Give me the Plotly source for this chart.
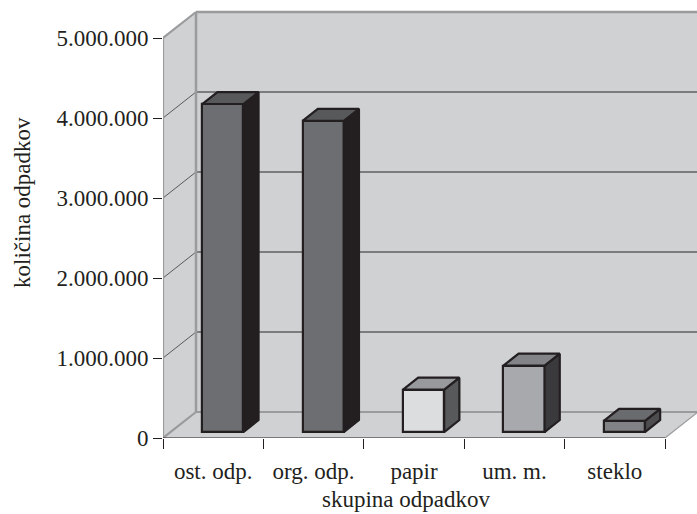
import plotly.graph_objects as go

# --- data -------------------------------------------------------------
categories = ["ost. odp.", "org. odp.", "papir", "um. m.", "steklo"]
values = [4100000, 3890000, 530000, 830000, 140000]

front_colors = ["#6d6e71", "#6d6e71", "#dcdddf", "#a7a9ac", "#808285"]
top_colors = ["#58595b", "#58595b", "#97999c", "#828487", "#6a6b6e"]
side_colors = ["#231f20", "#231f20", "#58595b", "#3a3a3c", "#4d4d4f"]

y_ticks = [0, 1000000, 2000000, 3000000, 4000000, 5000000]
y_tick_labels = ["0", "1.000.000", "2.000.000", "3.000.000", "4.000.000", "5.000.000"]

# --- 3D look: oblique depth offsets in axis units -----------------------
DEPTH_X = 0.3287          # category units for the full depth of the floor
DEPTH_Y = 325000          # value units for the full depth of the floor
BAR_FRONT = 0.23          # depth fraction where the bar front face sits
BAR_DEPTH = 0.46          # depth fraction occupied by a bar
BAR_WIDTH = 0.41
BAR_SHIFT = 0.02
N = len(categories)
Y_MAX = y_ticks[-1]

WALL = "#d0d1d3"
EDGE = "#9a9b9d"
INK = "#231f20"
FONT = "Liberation Serif, Times New Roman, serif"

x0, x1 = -0.5, N - 0.5
bx0, bx1 = x0 + DEPTH_X, x1 + DEPTH_X


def path(points):
    return "M " + " L ".join(f"{px},{py}" for px, py in points) + " Z"


shapes = []
# back wall, left wall, floor
for pts in [
    [(bx0, DEPTH_Y), (bx1, DEPTH_Y), (bx1, Y_MAX + DEPTH_Y), (bx0, Y_MAX + DEPTH_Y)],
    [(x0, 0), (bx0, DEPTH_Y), (bx0, Y_MAX + DEPTH_Y), (x0, Y_MAX)],
    [(x0, 0), (x1, 0), (bx1, DEPTH_Y), (bx0, DEPTH_Y)],
]:
    shapes.append(dict(type="path", path=path(pts), xref="x", yref="y",
                       fillcolor=WALL, line=dict(width=0), layer="below"))

# gridlines: back wall horizontals and left wall diagonals
for t in y_ticks[1:-1]:
    shapes.append(dict(type="line", xref="x", yref="y", x0=bx0, x1=bx1,
                       y0=t + DEPTH_Y, y1=t + DEPTH_Y,
                       line=dict(color="#5e5f61", width=1.5), layer="below"))
    shapes.append(dict(type="line", xref="x", yref="y", x0=x0, x1=bx0,
                       y0=t, y1=t + DEPTH_Y,
                       line=dict(color="#3a3a3c", width=0.8), layer="below"))

# wall edges
edges = [
    (x0, 0, x0, Y_MAX, 2.2),
    (bx0, DEPTH_Y, bx0, Y_MAX + DEPTH_Y, 2.5),
    (x0, Y_MAX, bx0, Y_MAX + DEPTH_Y, 2.2),
    (bx0, Y_MAX + DEPTH_Y, bx1, Y_MAX + DEPTH_Y, 2.5),
    (bx0, DEPTH_Y, bx1, DEPTH_Y, 2.2),
    (x0, 0, bx0, DEPTH_Y, 2.2),
    (x1, 0, bx1, DEPTH_Y, 1.2),
]
for ex0, ey0, ex1, ey1, w in edges:
    shapes.append(dict(type="line", xref="x", yref="y", x0=ex0, y0=ey0, x1=ex1, y1=ey1,
                       line=dict(color=EDGE, width=w), layer="below"))

# front floor edge (category axis line)
shapes.append(dict(type="line", xref="x", yref="y", x0=x0, y0=0, x1=x1, y1=0,
                   line=dict(color=INK, width=1.2), layer="above"))

fig = go.Figure()

# bar front faces
fx = [i + BAR_SHIFT + BAR_FRONT * DEPTH_X for i in range(N)]
base = BAR_FRONT * DEPTH_Y
fig.add_trace(go.Bar(
    x=fx, y=values, base=[base] * N, width=BAR_WIDTH,
    marker=dict(color=front_colors, line=dict(color=INK, width=2.2)),
    hoverinfo="skip", showlegend=False,
))

# bar tops and right sides
ddx, ddy = BAR_DEPTH * DEPTH_X, BAR_DEPTH * DEPTH_Y
for i, v in enumerate(values):
    xl, xr = fx[i] - BAR_WIDTH / 2, fx[i] + BAR_WIDTH / 2
    yb, yt = base, base + v
    side = [(xr, yb), (xr + ddx, yb + ddy), (xr + ddx, yt + ddy), (xr, yt), (xr, yb)]
    top = [(xl, yt), (xr, yt), (xr + ddx, yt + ddy), (xl + ddx, yt + ddy), (xl, yt)]
    for pts, col in [(side, side_colors[i]), (top, top_colors[i])]:
        fig.add_trace(go.Scatter(
            x=[p[0] for p in pts], y=[p[1] for p in pts],
            mode="lines", fill="toself", fillcolor=col,
            line=dict(color=INK, width=2.2),
            hoverinfo="skip", showlegend=False,
        ))

W, H = 697, 514
L, B = 163, 76
px_per_cat = 100.4
px_per_val = 80 / 1000000
plot_w, plot_h = W - L, H - B

fig.update_layout(
    width=W, height=H,
    margin=dict(l=L, r=0, t=0, b=B, pad=0),
    paper_bgcolor="white", plot_bgcolor="white",
    font=dict(family=FONT, size=23, color=INK),
    shapes=shapes,
    bargap=0,
    xaxis=dict(
        range=[x0, x0 + plot_w / px_per_cat],
        tickmode="array", tickvals=list(range(N)), ticktext=categories,
        ticks="outside", ticklen=12, tickcolor="rgba(0,0,0,0)",
        minor=dict(tickmode="array", tickvals=[k - 0.5 for k in range(N + 1)],
                   ticks="outside", ticklen=10, tickcolor=INK, tickwidth=1),
        showgrid=False, zeroline=False, showline=False, fixedrange=True,
    ),
    yaxis=dict(
        range=[0, plot_h / px_per_val],
        tickmode="array", tickvals=y_ticks, ticktext=y_tick_labels,
        ticks="outside", ticklen=9, tickcolor=INK, tickwidth=1,
        showgrid=False, zeroline=False, showline=False, fixedrange=True,
    ),
    annotations=[
        dict(text="količina odpadkov", textangle=-90, xref="paper", yref="paper",
             x=(22 - L) / plot_w, y=(plot_h - 203) / plot_h,
             showarrow=False, xanchor="center", yanchor="middle",
             font=dict(family=FONT, size=23, color=INK)),
        dict(text="skupina odpadkov", xref="paper", yref="paper",
             x=(406 - L) / plot_w, y=-(499 - plot_h) / plot_h,
             showarrow=False, xanchor="center", yanchor="middle",
             font=dict(family=FONT, size=23, color=INK)),
    ],
)

fig.write_html("out.html")
